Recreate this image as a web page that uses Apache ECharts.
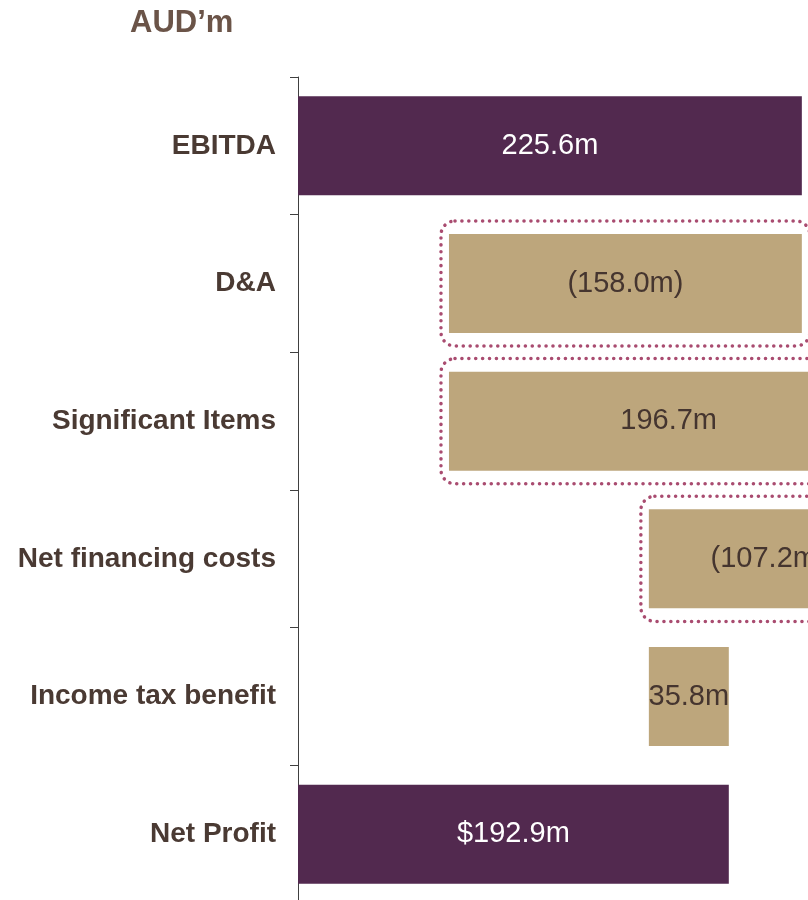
<!DOCTYPE html>
<html>
<head>
<meta charset="utf-8">
<script src="https://cdn.jsdelivr.net/npm/echarts@6/dist/echarts.min.js"></script>
<style>
  html, body { margin: 0; padding: 0; overflow: hidden; background: #fff; }
  #waterfall { width: 1000px; height: 920px; }
</style>
</head>
<body>
<div id="waterfall"></div>
<script>
var categories = ['EBITDA', 'D&A', 'Significant Items', 'Net financing costs', 'Income tax benefit', 'Net Profit']
var values = [225.6, -158.0, 196.7, -107.2, 35.8, 192.9]
var isTotal = [true, false, false, false, false, true]
var valueLabels = ['225.6m', '(158.0m)', '196.7m', '(107.2m)', '35.8m', '$192.9m']
var boxed = ['D&A', 'Significant Items', 'Net financing costs']

// waterfall: invisible base + visible piece
var baseData = []
var barData = []
var boxData = []
var running = 0
for (let i = 0; i < values.length; i++) {
    var lo, hi
    if (isTotal[i]) {
        lo = 0
        hi = values[i]
        running = values[i]
    } else {
        var next = running + values[i]
        lo = Math.min(running, next)
        hi = Math.max(running, next)
        running = next
    }
    baseData.push(lo)
    barData.push({
        value: hi - lo,
        itemStyle: { color: isTotal[i] ? '#52294F' : '#BDA67C' },
        label: {
            formatter: valueLabels[i],
            color: isTotal[i] ? '#FFFFFF' : '#45352F'
        }
    })
    if (boxed.indexOf(categories[i]) >= 0) {
        boxData.push([lo, hi, i])
    }
}

var chart = echarts.init(document.getElementById('waterfall'))

var option = {
    animation: false,
    graphic: [{
        type: 'text',
        left: 130,
        top: 8,
        style: {
            text: 'AUD\u2019m',
            font: 'bold 31px Arial, "Liberation Sans", sans-serif',
            fill: '#6B5448'
        }
    }],
    grid: {
        left: 298,
        top: 77,
        width: 670,
        height: 826
    },
    xAxis: {
        type: 'value',
        min: 0,
        max: 300,
        show: false
    },
    yAxis: {
        type: 'category',
        inverse: true,
        data: categories,
        axisLine: { lineStyle: { color: '#404040', width: 1 } },
        axisTick: { show: true, length: 8, lineStyle: { color: '#404040' } },
        axisLabel: {
            margin: 22,
            fontFamily: 'Arial, "Liberation Sans", sans-serif',
            fontWeight: 'bold',
            fontSize: 28,
            color: '#4A3A33'
        }
    },
    series: [
        {
            type: 'bar',
            stack: 'wf',
            barWidth: 99,
            silent: true,
            itemStyle: { color: 'transparent' },
            data: baseData
        },
        {
            type: 'bar',
            stack: 'wf',
            barWidth: 99,
            label: {
                show: true,
                position: 'inside',
                fontFamily: 'Arial, "Liberation Sans", sans-serif',
                fontSize: 29
            },
            data: barData
        },
        {
            type: 'custom',
            silent: true,
            encode: { x: [0, 1], y: 2 },
            renderItem: function (params, api) {
                var a = api.coord([api.value(0), api.value(2)])
                var b = api.coord([api.value(1), api.value(2)])
                var h = api.size([0, 1])[1] * 0.72
                var padX = 8, padY = 13
                return {
                    type: 'rect',
                    shape: {
                        x: a[0] - padX,
                        y: a[1] - h / 2 - padY,
                        width: b[0] - a[0] + padX * 2,
                        height: h + padY * 2,
                        r: 14
                    },
                    style: {
                        fill: 'none',
                        stroke: '#A94C70',
                        lineWidth: 3.5,
                        lineDash: [0.1, 6.8],
                        lineCap: 'round'
                    }
                }
            },
            data: boxData
        }
    ]
}

chart.setOption(option)
</script>
</body>
</html>
